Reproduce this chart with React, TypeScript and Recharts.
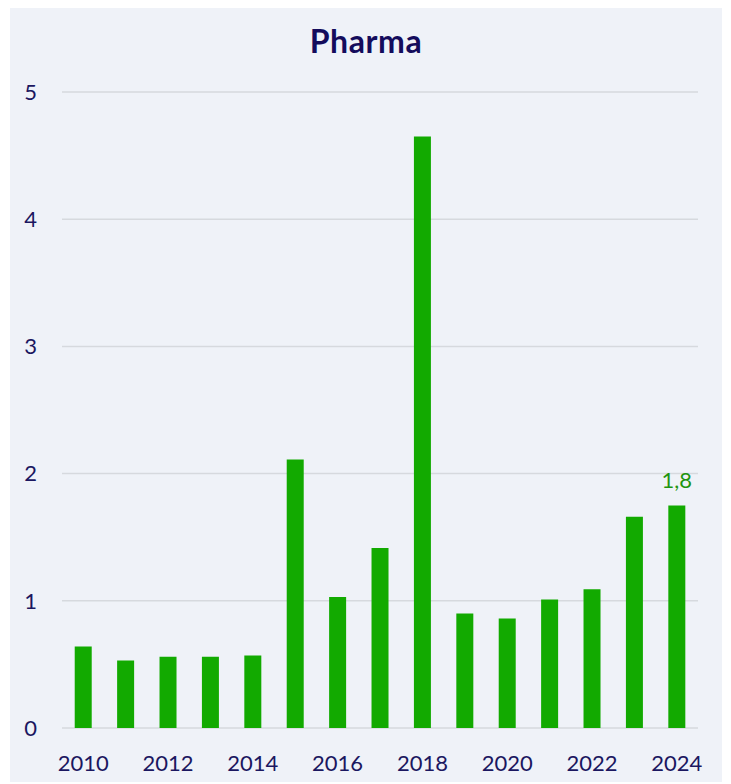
import React from "react";
import { BarChart, Bar, XAxis, YAxis, CartesianGrid, LabelList } from "recharts";

const years = ["2010","2011","2012","2013","2014","2015","2016","2017","2018","2019","2020","2021","2022","2023","2024"];
const values = [0.64, 0.53, 0.56, 0.56, 0.57, 2.11, 1.03, 1.415, 4.65, 0.9, 0.86, 1.01, 1.09, 1.66, 1.75];
const labels = ["", "", "", "", "", "", "", "", "", "", "", "", "", "", "1,8"];
const yTicks = [0, 1, 2, 3, 4, 5];
const xTicks = ["2010","2012","2014","2016","2018","2020","2022","2024"];

const data = years.map((y, i) => ({ year: y, value: values[i], label: labels[i] }));

const FONT = "Lato, 'Noto Sans', sans-serif";
const NAVY = "#1b1760";
const W = 712;
const H = 779;

export default function App() {
  return (
    <div style={{ position: "relative", width: W, height: H, marginLeft: 2, marginTop: -5, background: "#eff2f8", fontFamily: FONT }}>
      <div style={{ position: "absolute", top: 18, left: 0, width: W, textAlign: "center", fontSize: 32, lineHeight: "40px", fontWeight: 700, letterSpacing: 0.6, color: "#140c5c" }}>
        Pharma
      </div>
      <BarChart width={W} height={H} data={data} margin={{ top: 89, right: 24, left: 0, bottom: 0 }} barCategoryGap="30%">
        <CartesianGrid vertical={false} stroke="#d6d9de" strokeWidth={1.5} />
        <XAxis
          dataKey="year"
          ticks={xTicks}
          interval={0}
          axisLine={false}
          tickLine={false}
          tickSize={0}
          tickMargin={27}
          height={54}
          tick={{ fill: NAVY, fontSize: 22, fontFamily: FONT }}
        />
        <YAxis
          domain={[0, 5]}
          ticks={yTicks}
          width={52}
          axisLine={false}
          tickLine={false}
          tickSize={0}
          tickMargin={25}
          tick={{ fill: NAVY, fontSize: 22, fontFamily: FONT }}
        />
        <Bar dataKey="value" fill="#12aa00" isAnimationActive={false}>
          <LabelList dataKey="label" position="top" offset={17} fill="#1f9510" fontSize={22} fontFamily={FONT} />
        </Bar>
      </BarChart>
    </div>
  );
}
